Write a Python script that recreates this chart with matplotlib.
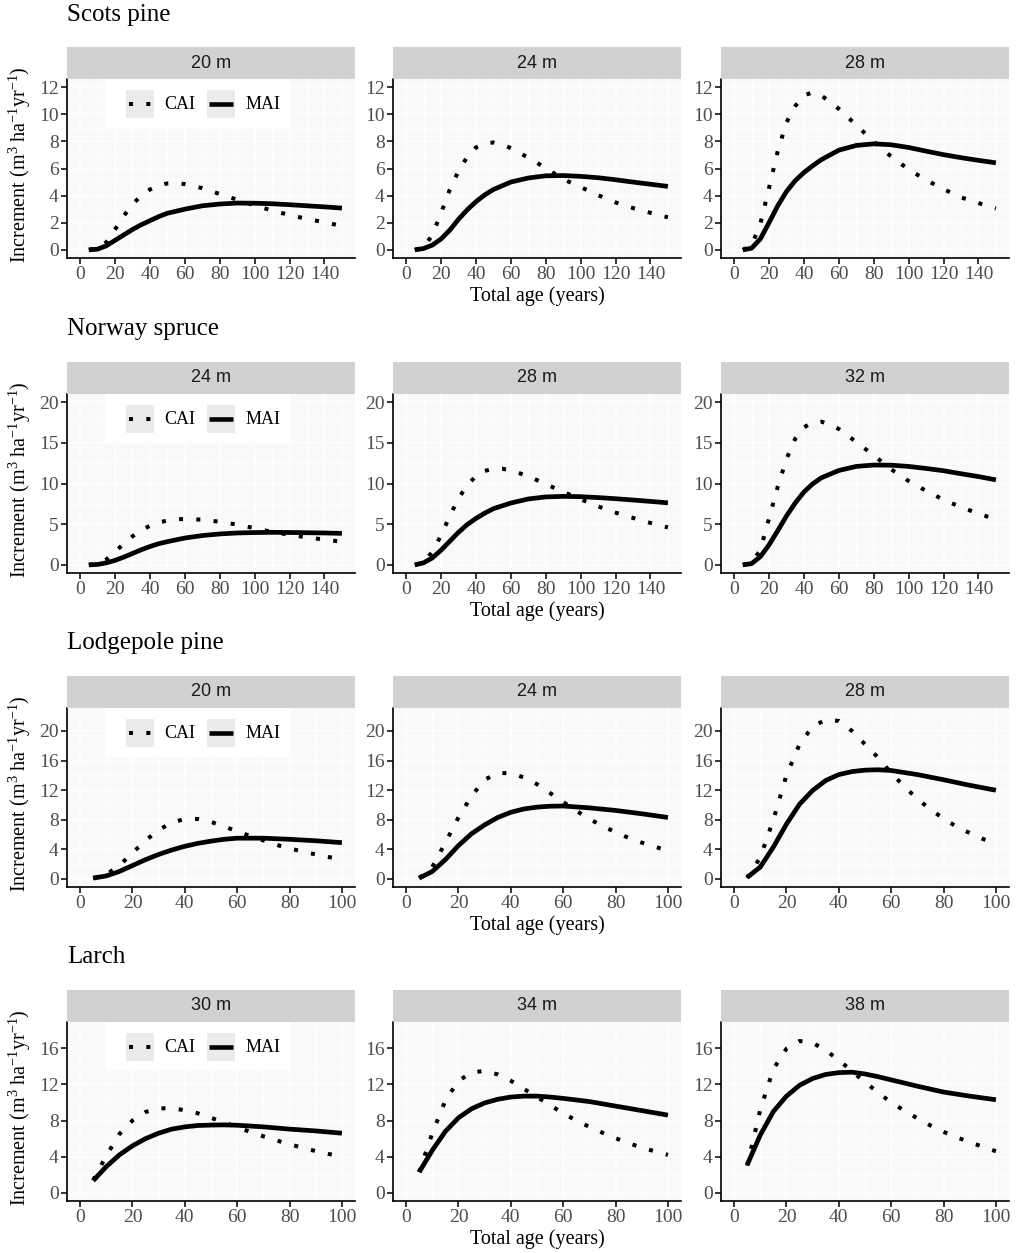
import matplotlib
matplotlib.use('Agg')  # no display
import matplotlib.pyplot as plt
from matplotlib.lines import Line2D
from matplotlib.patches import Rectangle
from matplotlib.ticker import MultipleLocator

plt.rcParams['font.family'] = ['Liberation Serif', 'DejaVu Serif']
plt.rcParams['mathtext.fontset'] = 'custom'
plt.rcParams['mathtext.rm'] = 'Liberation Serif'
plt.rcParams['mathtext.it'] = 'Liberation Serif:italic'

# ---- data ----
species = ["Scots pine", "Norway spruce", "Lodgepole pine", "Larch"]
site_labels = [["20 m", "24 m", "28 m"],
               ["24 m", "28 m", "32 m"],
               ["20 m", "24 m", "28 m"],
               ["30 m", "34 m", "38 m"]]

ages_cai_long = [5, 10, 15, 20, 25, 30, 35, 40, 45, 50, 55, 60, 70, 80, 90, 100, 110, 120, 130, 140, 150]
ages_mai_long = [5, 10, 15, 20, 25, 30, 35, 40, 45, 50, 60, 70, 80, 90, 100, 110, 120, 130, 140, 150]
ages_cai_short = [5, 10, 15, 20, 25, 30, 35, 40, 45, 50, 55, 60, 65, 70, 75, 80, 85, 90, 95, 100]
ages_mai_short = [5, 10, 15, 20, 25, 30, 35, 40, 45, 50, 55, 60, 70, 80, 90, 100]

# Scots pine
sp20_cai = [0.0, 0.15, 0.55, 1.5, 2.5, 3.35, 4.0, 4.45, 4.75, 4.9, 4.92, 4.85, 4.55, 4.12, 3.7, 3.28, 2.9, 2.57, 2.28, 2.03, 1.77]
sp20_mai = [0.0, 0.05, 0.3, 0.7, 1.1, 1.5, 1.85, 2.15, 2.45, 2.7, 3.0, 3.25, 3.38, 3.45, 3.44, 3.4, 3.33, 3.25, 3.17, 3.08]
sp24_cai = [0.0, 0.15, 1.1, 2.7, 4.43, 5.8, 6.85, 7.55, 7.85, 7.92, 7.78, 7.5, 6.8, 6.03, 5.21, 4.63, 4.03, 3.5, 3.08, 2.73, 2.4]
sp24_mai = [0.0, 0.1, 0.35, 0.8, 1.45, 2.25, 2.95, 3.55, 4.05, 4.45, 5.0, 5.3, 5.46, 5.48, 5.42, 5.32, 5.17, 5.0, 4.84, 4.68]
sp28_cai = [0.0, 0.3, 1.9, 4.55, 7.26, 9.4, 10.6, 11.4, 11.6, 11.38, 10.9, 10.4, 9.2, 7.99, 6.88, 5.93, 5.15, 4.48, 3.87, 3.45, 3.05]
sp28_mai = [0.0, 0.12, 0.8, 2.0, 3.25, 4.3, 5.1, 5.7, 6.2, 6.65, 7.35, 7.7, 7.82, 7.75, 7.55, 7.28, 7.02, 6.8, 6.6, 6.42]

# Norway spruce
ns24_cai = [0.0, 0.15, 0.65, 1.6, 2.6, 3.5, 4.25, 4.8, 5.2, 5.45, 5.6, 5.65, 5.55, 5.3, 4.95, 4.5, 4.05, 3.7, 3.38, 3.1, 2.85]
ns24_mai = [0.0, 0.05, 0.25, 0.55, 0.95, 1.4, 1.85, 2.25, 2.6, 2.85, 3.3, 3.6, 3.8, 3.92, 3.97, 4.0, 3.98, 3.95, 3.92, 3.87]
ns28_cai = [0.0, 0.3, 1.6, 3.6, 6.0, 8.15, 9.8, 10.9, 11.55, 11.8, 11.82, 11.62, 10.9, 9.93, 8.98, 8.05, 7.18, 6.43, 5.77, 5.15, 4.6]
ns28_mai = [0.0, 0.25, 0.85, 1.8, 2.9, 4.0, 4.95, 5.7, 6.35, 6.9, 7.6, 8.1, 8.35, 8.42, 8.38, 8.27, 8.13, 7.97, 7.8, 7.62]
ns32_cai = [0.0, 0.3, 1.8, 5.7, 9.6, 13.0, 15.5, 16.9, 17.5, 17.6, 17.25, 16.7, 15.1, 13.45, 11.75, 10.3, 9.1, 8.0, 7.1, 6.3, 5.58]
ns32_mai = [0.0, 0.15, 1.0, 2.45, 4.2, 6.0, 7.6, 8.95, 9.95, 10.7, 11.6, 12.1, 12.27, 12.25, 12.1, 11.85, 11.57, 11.2, 10.85, 10.45]

# Lodgepole pine
lp20_cai = [0.1, 0.6, 1.8, 3.5, 5.2, 6.6, 7.6, 8.1, 8.1, 7.7, 7.1, 6.4, 5.8, 5.2, 4.6, 4.1, 3.7, 3.3, 2.95, 2.6]
lp20_mai = [0.1, 0.4, 1.0, 1.8, 2.6, 3.3, 3.9, 4.4, 4.8, 5.1, 5.35, 5.5, 5.5, 5.35, 5.15, 4.9]
lp24_cai = [0.1, 1.6, 4.9, 8.3, 11.2, 13.4, 14.3, 14.3, 13.7, 12.8, 11.6, 10.4, 9.2, 8.1, 7.15, 6.3, 5.55, 4.9, 4.35, 3.8]
lp24_mai = [0.1, 1.0, 2.6, 4.5, 6.1, 7.3, 8.3, 9.0, 9.45, 9.7, 9.82, 9.85, 9.6, 9.25, 8.8, 8.3]
lp28_cai = [0.1, 2.9, 8.0, 14.0, 18.2, 20.6, 21.5, 21.35, 20.0, 18.2, 16.4, 14.3, 12.5, 10.8, 9.4, 8.15, 7.05, 6.2, 5.4, 4.75]
lp28_mai = [0.2, 1.6, 4.3, 7.4, 10.1, 11.95, 13.3, 14.1, 14.5, 14.7, 14.75, 14.65, 14.1, 13.4, 12.65, 11.98]

# Larch
la30_cai = [1.4, 4.1, 6.5, 8.0, 8.95, 9.35, 9.35, 9.15, 8.8, 8.3, 7.8, 7.25, 6.75, 6.25, 5.8, 5.38, 4.98, 4.62, 4.3, 3.98]
la30_mai = [1.35, 2.9, 4.2, 5.2, 6.0, 6.6, 7.05, 7.3, 7.45, 7.5, 7.52, 7.48, 7.3, 7.05, 6.85, 6.6]
la34_cai = [2.3, 6.6, 10.2, 12.4, 13.3, 13.5, 13.1, 12.4, 11.5, 10.6, 9.7, 8.8, 8.0, 7.3, 6.65, 6.05, 5.5, 5.0, 4.6, 4.2]
la34_mai = [2.3, 4.7, 6.8, 8.3, 9.3, 9.95, 10.35, 10.6, 10.7, 10.7, 10.6, 10.45, 10.1, 9.6, 9.1, 8.6]
la38_cai = [3.0, 9.2, 13.7, 15.95, 16.8, 16.6, 15.75, 14.7, 13.45, 12.25, 11.1, 10.0, 9.1, 8.25, 7.45, 6.75, 6.15, 5.6, 5.1, 4.6]
la38_mai = [3.1, 6.4, 9.0, 10.7, 11.9, 12.65, 13.1, 13.3, 13.35, 13.15, 12.85, 12.5, 11.8, 11.15, 10.7, 10.3]

cai_rows = [[sp20_cai, sp24_cai, sp28_cai], [ns24_cai, ns28_cai, ns32_cai],
            [lp20_cai, lp24_cai, lp28_cai], [la30_cai, la34_cai, la38_cai]]
mai_rows = [[sp20_mai, sp24_mai, sp28_mai], [ns24_mai, ns28_mai, ns32_mai],
            [lp20_mai, lp24_mai, lp28_mai], [la30_mai, la34_mai, la38_mai]]
long_rows = [True, True, False, False]

# ---- layout (pixels) ----
W, H = 1016, 1253
col_x = [67, 393, 721]
panel_w = 288
panel_top = [79, 394, 708, 1022]
panel_h = 179
strip_h = 32
row_ylim = [(-0.6, 12.6), (-1.0, 21.0), (-1.1, 23.1), (-0.9, 18.9)]
row_ystep = [2, 5, 4, 4]
row_ymax_tick = [12, 20, 20, 16]

TICK_COL = '#4D4D4D'
BG = '#F9F9F9'
STRIP = '#D1D1D1'
CAI_DASH = (0, (1, 3.3))


def px_rect(x0, top, w, h):
    return [x0 / W, 1 - (top + h) / H, w / W, h / H]


def draw_legend(ax):
    t = ax.transAxes
    ax.add_patch(Rectangle((0.132, 0.725), 0.646, 0.275, transform=t,
                           facecolor='white', edgecolor='none', zorder=5, clip_on=False))
    for kx in (0.204, 0.485):
        ax.add_patch(Rectangle((kx, 0.780), 0.097, 0.159, transform=t,
                               facecolor='#EBEBEB', edgecolor='none', zorder=6))
    yc = 0.859
    ax.add_line(Line2D([0.215, 0.290], [yc, yc], transform=t, color='black', lw=2.9,
                       linestyle=CAI_DASH, zorder=7))
    ax.add_line(Line2D([0.494, 0.575], [yc, yc], transform=t, color='black', lw=3.3,
                       solid_capstyle='butt', zorder=7))
    ax.text(0.337, yc, 'CAI', transform=t, fontsize=13, va='center', ha='left', zorder=8)
    ax.text(0.620, yc, 'MAI', transform=t, fontsize=13, va='center', ha='left', zorder=8)


fig = plt.figure(figsize=(W / 100, H / 100), dpi=100)

for i in range(4):
    if long_rows[i]:
        ages_cai, ages_mai = ages_cai_long, ages_mai_long
        xlim, xticks = (-7.5, 157.5), list(range(0, 141, 20))
    else:
        ages_cai, ages_mai = ages_cai_short, ages_mai_short
        xlim, xticks = (-5, 105), list(range(0, 101, 20))

    fig.text(67 / W, 1 - (21 + 314 * i) / H, species[i], fontsize=18,
             ha='left', va='baseline')

    for j in range(3):
        ax = fig.add_axes(px_rect(col_x[j], panel_top[i], panel_w, panel_h))
        ax.set_facecolor(BG)
        ax.plot(ages_mai, mai_rows[i][j], color='black', lw=3.4, solid_capstyle='butt', zorder=3)
        ax.plot(ages_cai, cai_rows[i][j], color='black', lw=2.9, linestyle=CAI_DASH, zorder=3)

        ax.set_xlim(*xlim)
        ax.set_ylim(*row_ylim[i])
        ax.set_xticks(xticks)
        ax.set_yticks(list(range(0, row_ymax_tick[i] + 1, row_ystep[i])))
        ax.xaxis.set_minor_locator(MultipleLocator(10))
        ax.yaxis.set_minor_locator(MultipleLocator(row_ystep[i] / 2))
        ax.grid(which='major', color='white', lw=1.1)
        ax.grid(which='minor', color='white', lw=0.6)
        ax.set_axisbelow(True)
        for s in ('top', 'right'):
            ax.spines[s].set_visible(False)
        for s in ('left', 'bottom'):
            ax.spines[s].set_linewidth(1.2)
            ax.spines[s].set_color('black')
        ax.tick_params(which='major', length=4, width=1.1, color='black',
                       labelcolor=TICK_COL, labelsize=14, pad=2)
        ax.tick_params(which='minor', length=0)

        if j == 1:
            ax.set_xlabel('Total age (years)', fontsize=14.5, labelpad=2)
        if j == 0:
            draw_legend(ax)

        sax = fig.add_axes(px_rect(col_x[j], panel_top[i] - strip_h, panel_w, strip_h))
        sax.set_facecolor(STRIP)
        sax.set_xticks([])
        sax.set_yticks([])
        for s in sax.spines.values():
            s.set_visible(False)
        sax.text(0.5, 0.5, site_labels[i][j], transform=sax.transAxes, ha='center',
                 va='center', fontsize=13, family='Liberation Sans', color='#1A1A1A')

    fig.text(20 / W, 1 - (panel_top[i] + panel_h / 2 - 4) / H,
             r'Increment (m$^3$ ha$^{-1}$yr$^{-1}$)', rotation=90,
             ha='center', va='center', fontsize=14.5)

fig.savefig('out.png', dpi=100, facecolor='white')
